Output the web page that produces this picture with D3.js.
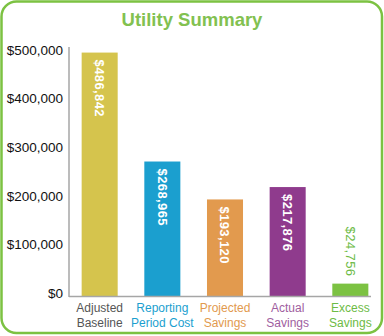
<!DOCTYPE html>
<html>
<head>
<meta charset="utf-8">
<script src="https://cdn.jsdelivr.net/npm/d3@7"></script>
<style>
  html, body { margin: 0; padding: 0; background: #ffffff; }
  svg { display: block; font-family: "Liberation Sans", Arial, sans-serif; }
</style>
</head>
<body>
<svg id="chart" width="384" height="336"></svg>
<script>
// Utility summary figures
const categories = ["Adjusted Baseline", "Reporting Period Cost", "Projected Savings", "Actual Savings", "Excess Savings"];
const labelLines = [["Adjusted", "Baseline"], ["Reporting", "Period Cost"], ["Projected", "Savings"], ["Actual", "Savings"], ["Excess", "Savings"]];
const values = [486842, 268965, 193120, 217876, 24756];
const barColors = ["#d5c44d", "#1b9fcf", "#e29a4e", "#8f3b8d", "#7cc242"];
const labelColors = ["#555555", "#1b9fcf", "#e29a4e", "#a05ea0", "#6dbb45"];
const tickValues = [0, 100000, 200000, 300000, 400000, 500000];

const svg = d3.select("#chart");
const W = 384, H = 336;

// Rounded green frame
svg.append("rect")
  .attr("x", 1.5).attr("y", 1.5)
  .attr("width", W - 3.5).attr("height", H - 4.5)
  .attr("rx", 15).attr("ry", 15)
  .attr("fill", "#ffffff")
  .attr("stroke", "#7cc242")
  .attr("stroke-width", 2.5);

// Title
svg.append("text")
  .attr("x", 192).attr("y", 26)
  .attr("text-anchor", "middle")
  .attr("font-size", 18.5)
  .attr("font-weight", "bold")
  .attr("fill", "#82c150")
  .text("Utility Summary");

const y = d3.scaleLinear().domain([0, 500000]).range([296, 46]);
// Tick labels sit on a slightly tighter track than the bars
const yLabel = d3.scaleLinear().domain([0, 500000]).range([293, 50]);
const x = d3.scaleBand().domain(categories).range([71, 379]).paddingInner(0.425).paddingOuter(0.17);

// Y tick labels
const fmt = d3.format("$,");
svg.append("g").selectAll("text")
  .data(tickValues)
  .join("text")
  .attr("x", 63)
  .attr("y", d => yLabel(d))
  .attr("dy", "0.35em")
  .attr("text-anchor", "end")
  .attr("font-size", 13.5)
  .attr("fill", "#111111")
  .text(d => fmt(d));

// Bars
svg.append("g").selectAll("rect")
  .data(values)
  .join("rect")
  .attr("x", (d, i) => x(categories[i]))
  .attr("y", d => y(d))
  .attr("width", x.bandwidth())
  .attr("height", d => y(0) - y(d))
  .attr("fill", (d, i) => barColors[i]);

// Axis lines
svg.append("line")
  .attr("x1", 69).attr("x2", 69)
  .attr("y1", 47).attr("y2", y(0) + 1)
  .attr("stroke", "#a6a6a6").attr("stroke-width", 1.5);
svg.append("line")
  .attr("x1", 69).attr("x2", 371)
  .attr("y1", y(0) + 0.5).attr("y2", y(0) + 0.5)
  .attr("stroke", "#a6a6a6").attr("stroke-width", 1.5);

// Rotated value labels: inside tall bars, above short ones
const isInside = d => y(0) - y(d) > 70;
svg.append("g").selectAll("text")
  .data(values)
  .join("text")
  .attr("transform", (d, i) => {
    const cx = x(categories[i]) + x.bandwidth() / 2;
    const ty = isInside(d) ? y(d) + 7 : y(d) - 57;
    return `translate(${cx},${ty}) rotate(90)`;
  })
  .attr("dy", "0.35em")
  .attr("text-anchor", "start")
  .attr("font-size", 13)
  .attr("font-weight", d => (isInside(d) ? "bold" : "normal"))
  .attr("letter-spacing", 0.4)
  .attr("fill", d => (isInside(d) ? "#ffffff" : "#6dbb45"))
  .text(d => fmt(d));

// Category labels
const cat = svg.append("g").selectAll("text")
  .data(categories)
  .join("text")
  .attr("x", d => x(d) + x.bandwidth() / 2)
  .attr("y", 312)
  .attr("text-anchor", "middle")
  .attr("font-size", 12)
  .attr("fill", (d, i) => labelColors[i]);
cat.selectAll("tspan")
  .data((d, i) => labelLines[i])
  .join("tspan")
  .attr("x", function() { return d3.select(this.parentNode).attr("x"); })
  .attr("dy", (d, j) => (j === 0 ? 0 : 15))
  .text(d => d);
</script>
</body>
</html>
